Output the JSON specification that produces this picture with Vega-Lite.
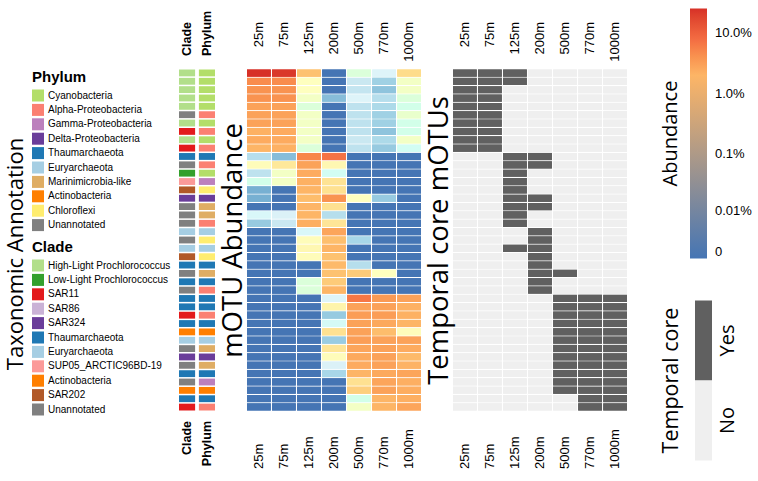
{
"$schema":"https://vega.github.io/schema/vega-lite/v6.json",
"background":"white",
"padding":{"left":5,"right":5,"top":8.5,"bottom":5},
"bounds":"flush",
"spacing":32,
"title":{"text":"Taxonomic Annotation","orient":"left","anchor":"middle","frame":"group","fontSize":22,"fontWeight":"normal","font":"Open Sans","color":"black","offset":4,"dx":-14},
"config":{"view":{"stroke":null},"axis":{"domain":false,"ticks":false,"tickSize":0,"grid":false,"labelColor":"black","titleColor":"black"},"legend":{"labelColor":"black","titleColor":"black"}},
"datasets":{
"annot":[
{"m":1,"clade":"High-Light Prochlorococcus","phylum":"Cyanobacteria"},
{"m":2,"clade":"High-Light Prochlorococcus","phylum":"Cyanobacteria"},
{"m":3,"clade":"High-Light Prochlorococcus","phylum":"Cyanobacteria"},
{"m":4,"clade":"High-Light Prochlorococcus","phylum":"Cyanobacteria"},
{"m":5,"clade":"High-Light Prochlorococcus","phylum":"Cyanobacteria"},
{"m":6,"clade":"Unannotated","phylum":"Alpha-Proteobacteria"},
{"m":7,"clade":"High-Light Prochlorococcus","phylum":"Cyanobacteria"},
{"m":8,"clade":"SAR11","phylum":"Alpha-Proteobacteria"},
{"m":9,"clade":"High-Light Prochlorococcus","phylum":"Cyanobacteria"},
{"m":10,"clade":"SAR11","phylum":"Alpha-Proteobacteria"},
{"m":11,"clade":"Thaumarchaeota","phylum":"Thaumarchaeota"},
{"m":12,"clade":"Unannotated","phylum":"Alpha-Proteobacteria"},
{"m":13,"clade":"Low-Light Prochlorococcus","phylum":"Cyanobacteria"},
{"m":14,"clade":"SUP05_ARCTIC96BD-19","phylum":"Gamma-Proteobacteria"},
{"m":15,"clade":"SAR202","phylum":"Chloroflexi"},
{"m":16,"clade":"SAR324","phylum":"Delta-Proteobacteria"},
{"m":17,"clade":"Unannotated","phylum":"Marinimicrobia-like"},
{"m":18,"clade":"Unannotated","phylum":"Marinimicrobia-like"},
{"m":19,"clade":"Unannotated","phylum":"Alpha-Proteobacteria"},
{"m":20,"clade":"Euryarchaeota","phylum":"Euryarchaeota"},
{"m":21,"clade":"Unannotated","phylum":"Chloroflexi"},
{"m":22,"clade":"Euryarchaeota","phylum":"Euryarchaeota"},
{"m":23,"clade":"SAR202","phylum":"Chloroflexi"},
{"m":24,"clade":"Thaumarchaeota","phylum":"Thaumarchaeota"},
{"m":25,"clade":"Unannotated","phylum":"Marinimicrobia-like"},
{"m":26,"clade":"Thaumarchaeota","phylum":"Thaumarchaeota"},
{"m":27,"clade":"Unannotated","phylum":"Alpha-Proteobacteria"},
{"m":28,"clade":"Thaumarchaeota","phylum":"Thaumarchaeota"},
{"m":29,"clade":"Thaumarchaeota","phylum":"Thaumarchaeota"},
{"m":30,"clade":"SAR11","phylum":"Alpha-Proteobacteria"},
{"m":31,"clade":"Thaumarchaeota","phylum":"Thaumarchaeota"},
{"m":32,"clade":"Actinobacteria","phylum":"Actinobacteria"},
{"m":33,"clade":"Euryarchaeota","phylum":"Euryarchaeota"},
{"m":34,"clade":"Unannotated","phylum":"Marinimicrobia-like"},
{"m":35,"clade":"SAR324","phylum":"Delta-Proteobacteria"},
{"m":36,"clade":"Unannotated","phylum":"Marinimicrobia-like"},
{"m":37,"clade":"Thaumarchaeota","phylum":"Thaumarchaeota"},
{"m":38,"clade":"Unannotated","phylum":"Gamma-Proteobacteria"},
{"m":39,"clade":"Actinobacteria","phylum":"Actinobacteria"},
{"m":40,"clade":"Thaumarchaeota","phylum":"Thaumarchaeota"},
{"m":41,"clade":"SAR11","phylum":"Alpha-Proteobacteria"}
],
"cells":[
{"m":1,"d":"25m","a":25,"c":"Yes"},{"m":1,"d":"75m","a":22,"c":"Yes"},{"m":1,"d":"125m","a":1.5,"c":"Yes"},{"m":1,"d":"200m","a":0,"c":"No"},{"m":1,"d":"500m","a":0.15,"c":"No"},{"m":1,"d":"770m","a":0.07,"c":"No"},{"m":1,"d":"1000m","a":0.8,"c":"No"},
{"m":2,"d":"25m","a":4.5,"c":"Yes"},{"m":2,"d":"75m","a":4.5,"c":"Yes"},{"m":2,"d":"125m","a":0.22,"c":"Yes"},{"m":2,"d":"200m","a":0,"c":"No"},{"m":2,"d":"500m","a":0.04,"c":"No"},{"m":2,"d":"770m","a":0.015,"c":"No"},{"m":2,"d":"1000m","a":0.2,"c":"No"},
{"m":3,"d":"25m","a":4,"c":"Yes"},{"m":3,"d":"75m","a":4,"c":"Yes"},{"m":3,"d":"125m","a":0.22,"c":"No"},{"m":3,"d":"200m","a":0,"c":"No"},{"m":3,"d":"500m","a":0.035,"c":"No"},{"m":3,"d":"770m","a":0.01,"c":"No"},{"m":3,"d":"1000m","a":0.2,"c":"No"},
{"m":4,"d":"25m","a":4,"c":"Yes"},{"m":4,"d":"75m","a":4,"c":"Yes"},{"m":4,"d":"125m","a":0.2,"c":"No"},{"m":4,"d":"200m","a":0.008,"c":"No"},{"m":4,"d":"500m","a":0.07,"c":"No"},{"m":4,"d":"770m","a":0.025,"c":"No"},{"m":4,"d":"1000m","a":0.15,"c":"No"},
{"m":5,"d":"25m","a":3,"c":"Yes"},{"m":5,"d":"75m","a":3,"c":"Yes"},{"m":5,"d":"125m","a":0.15,"c":"No"},{"m":5,"d":"200m","a":0,"c":"No"},{"m":5,"d":"500m","a":0.03,"c":"No"},{"m":5,"d":"770m","a":0.02,"c":"No"},{"m":5,"d":"1000m","a":0.12,"c":"No"},
{"m":6,"d":"25m","a":3,"c":"Yes"},{"m":6,"d":"75m","a":3,"c":"Yes"},{"m":6,"d":"125m","a":0.2,"c":"No"},{"m":6,"d":"200m","a":0,"c":"No"},{"m":6,"d":"500m","a":0.03,"c":"No"},{"m":6,"d":"770m","a":0.015,"c":"No"},{"m":6,"d":"1000m","a":0.18,"c":"No"},
{"m":7,"d":"25m","a":3,"c":"Yes"},{"m":7,"d":"75m","a":3,"c":"Yes"},{"m":7,"d":"125m","a":0.2,"c":"No"},{"m":7,"d":"200m","a":0,"c":"No"},{"m":7,"d":"500m","a":0.03,"c":"No"},{"m":7,"d":"770m","a":0.015,"c":"No"},{"m":7,"d":"1000m","a":0.12,"c":"No"},
{"m":8,"d":"25m","a":2.2,"c":"Yes"},{"m":8,"d":"75m","a":2.5,"c":"Yes"},{"m":8,"d":"125m","a":0.2,"c":"No"},{"m":8,"d":"200m","a":0,"c":"No"},{"m":8,"d":"500m","a":0.03,"c":"No"},{"m":8,"d":"770m","a":0.01,"c":"No"},{"m":8,"d":"1000m","a":0.12,"c":"No"},
{"m":9,"d":"25m","a":2.5,"c":"Yes"},{"m":9,"d":"75m","a":2.5,"c":"Yes"},{"m":9,"d":"125m","a":0.2,"c":"No"},{"m":9,"d":"200m","a":0,"c":"No"},{"m":9,"d":"500m","a":0.04,"c":"No"},{"m":9,"d":"770m","a":0.02,"c":"No"},{"m":9,"d":"1000m","a":0.2,"c":"No"},
{"m":10,"d":"25m","a":2,"c":"Yes"},{"m":10,"d":"75m","a":2.2,"c":"Yes"},{"m":10,"d":"125m","a":0.15,"c":"No"},{"m":10,"d":"200m","a":0,"c":"No"},{"m":10,"d":"500m","a":0.03,"c":"No"},{"m":10,"d":"770m","a":0.012,"c":"No"},{"m":10,"d":"1000m","a":0.1,"c":"No"},
{"m":11,"d":"25m","a":0.025,"c":"No"},{"m":11,"d":"75m","a":0.008,"c":"No"},{"m":11,"d":"125m","a":5,"c":"Yes"},{"m":11,"d":"200m","a":7,"c":"Yes"},{"m":11,"d":"500m","a":0,"c":"No"},{"m":11,"d":"770m","a":0,"c":"No"},{"m":11,"d":"1000m","a":0,"c":"No"},
{"m":12,"d":"25m","a":0.25,"c":"No"},{"m":12,"d":"75m","a":0.55,"c":"No"},{"m":12,"d":"125m","a":3,"c":"Yes"},{"m":12,"d":"200m","a":0.3,"c":"Yes"},{"m":12,"d":"500m","a":0,"c":"No"},{"m":12,"d":"770m","a":0,"c":"No"},{"m":12,"d":"1000m","a":0,"c":"No"},
{"m":13,"d":"25m","a":0.03,"c":"No"},{"m":13,"d":"75m","a":0.2,"c":"No"},{"m":13,"d":"125m","a":2.5,"c":"Yes"},{"m":13,"d":"200m","a":0.1,"c":"No"},{"m":13,"d":"500m","a":0,"c":"No"},{"m":13,"d":"770m","a":0,"c":"No"},{"m":13,"d":"1000m","a":0,"c":"No"},
{"m":14,"d":"25m","a":0.12,"c":"No"},{"m":14,"d":"75m","a":0.2,"c":"No"},{"m":14,"d":"125m","a":2.2,"c":"Yes"},{"m":14,"d":"200m","a":0.65,"c":"No"},{"m":14,"d":"500m","a":0,"c":"No"},{"m":14,"d":"770m","a":0,"c":"No"},{"m":14,"d":"1000m","a":0,"c":"No"},
{"m":15,"d":"25m","a":0.005,"c":"No"},{"m":15,"d":"75m","a":0,"c":"No"},{"m":15,"d":"125m","a":2,"c":"Yes"},{"m":15,"d":"200m","a":0.7,"c":"No"},{"m":15,"d":"500m","a":0,"c":"No"},{"m":15,"d":"770m","a":0,"c":"No"},{"m":15,"d":"1000m","a":0,"c":"No"},
{"m":16,"d":"25m","a":0.005,"c":"No"},{"m":16,"d":"75m","a":0,"c":"No"},{"m":16,"d":"125m","a":1.7,"c":"Yes"},{"m":16,"d":"200m","a":4,"c":"Yes"},{"m":16,"d":"500m","a":0.22,"c":"No"},{"m":16,"d":"770m","a":0.012,"c":"No"},{"m":16,"d":"1000m","a":0,"c":"No"},
{"m":17,"d":"25m","a":0,"c":"No"},{"m":17,"d":"75m","a":0,"c":"No"},{"m":17,"d":"125m","a":2,"c":"Yes"},{"m":17,"d":"200m","a":0.7,"c":"Yes"},{"m":17,"d":"500m","a":0,"c":"No"},{"m":17,"d":"770m","a":0,"c":"No"},{"m":17,"d":"1000m","a":0,"c":"No"},
{"m":18,"d":"25m","a":0.08,"c":"No"},{"m":18,"d":"75m","a":0.06,"c":"No"},{"m":18,"d":"125m","a":2,"c":"Yes"},{"m":18,"d":"200m","a":0.025,"c":"No"},{"m":18,"d":"500m","a":0,"c":"No"},{"m":18,"d":"770m","a":0,"c":"No"},{"m":18,"d":"1000m","a":0,"c":"No"},
{"m":19,"d":"25m","a":0.012,"c":"No"},{"m":19,"d":"75m","a":0.04,"c":"No"},{"m":19,"d":"125m","a":2.3,"c":"Yes"},{"m":19,"d":"200m","a":0.6,"c":"No"},{"m":19,"d":"500m","a":0,"c":"No"},{"m":19,"d":"770m","a":0,"c":"No"},{"m":19,"d":"1000m","a":0,"c":"No"},
{"m":20,"d":"25m","a":0,"c":"No"},{"m":20,"d":"75m","a":0,"c":"No"},{"m":20,"d":"125m","a":0.08,"c":"No"},{"m":20,"d":"200m","a":2.8,"c":"Yes"},{"m":20,"d":"500m","a":0,"c":"No"},{"m":20,"d":"770m","a":0,"c":"No"},{"m":20,"d":"1000m","a":0,"c":"No"},
{"m":21,"d":"25m","a":0,"c":"No"},{"m":21,"d":"75m","a":0,"c":"No"},{"m":21,"d":"125m","a":0.25,"c":"No"},{"m":21,"d":"200m","a":1.6,"c":"Yes"},{"m":21,"d":"500m","a":0.018,"c":"No"},{"m":21,"d":"770m","a":0,"c":"No"},{"m":21,"d":"1000m","a":0,"c":"No"},
{"m":22,"d":"25m","a":0,"c":"No"},{"m":22,"d":"75m","a":0,"c":"No"},{"m":22,"d":"125m","a":0.3,"c":"Yes"},{"m":22,"d":"200m","a":2,"c":"Yes"},{"m":22,"d":"500m","a":0,"c":"No"},{"m":22,"d":"770m","a":0,"c":"No"},{"m":22,"d":"1000m","a":0,"c":"No"},
{"m":23,"d":"25m","a":0,"c":"No"},{"m":23,"d":"75m","a":0,"c":"No"},{"m":23,"d":"125m","a":0.25,"c":"No"},{"m":23,"d":"200m","a":1.5,"c":"Yes"},{"m":23,"d":"500m","a":0,"c":"No"},{"m":23,"d":"770m","a":0,"c":"No"},{"m":23,"d":"1000m","a":0,"c":"No"},
{"m":24,"d":"25m","a":0,"c":"No"},{"m":24,"d":"75m","a":0,"c":"No"},{"m":24,"d":"125m","a":0,"c":"No"},{"m":24,"d":"200m","a":1.8,"c":"Yes"},{"m":24,"d":"500m","a":0.025,"c":"No"},{"m":24,"d":"770m","a":0,"c":"No"},{"m":24,"d":"1000m","a":0,"c":"No"},
{"m":25,"d":"25m","a":0,"c":"No"},{"m":25,"d":"75m","a":0,"c":"No"},{"m":25,"d":"125m","a":0,"c":"No"},{"m":25,"d":"200m","a":1.5,"c":"Yes"},{"m":25,"d":"500m","a":1.2,"c":"Yes"},{"m":25,"d":"770m","a":0.22,"c":"No"},{"m":25,"d":"1000m","a":0,"c":"No"},
{"m":26,"d":"25m","a":0,"c":"No"},{"m":26,"d":"75m","a":0,"c":"No"},{"m":26,"d":"125m","a":0.15,"c":"No"},{"m":26,"d":"200m","a":1.2,"c":"Yes"},{"m":26,"d":"500m","a":0,"c":"No"},{"m":26,"d":"770m","a":0,"c":"No"},{"m":26,"d":"1000m","a":0,"c":"No"},
{"m":27,"d":"25m","a":0,"c":"No"},{"m":27,"d":"75m","a":0,"c":"No"},{"m":27,"d":"125m","a":0.15,"c":"No"},{"m":27,"d":"200m","a":2,"c":"Yes"},{"m":27,"d":"500m","a":0,"c":"No"},{"m":27,"d":"770m","a":0,"c":"No"},{"m":27,"d":"1000m","a":0,"c":"No"},
{"m":28,"d":"25m","a":0,"c":"No"},{"m":28,"d":"75m","a":0,"c":"No"},{"m":28,"d":"125m","a":0,"c":"No"},{"m":28,"d":"200m","a":0.07,"c":"No"},{"m":28,"d":"500m","a":6.5,"c":"Yes"},{"m":28,"d":"770m","a":3.5,"c":"Yes"},{"m":28,"d":"1000m","a":3,"c":"Yes"},
{"m":29,"d":"25m","a":0,"c":"No"},{"m":29,"d":"75m","a":0,"c":"No"},{"m":29,"d":"125m","a":0,"c":"No"},{"m":29,"d":"200m","a":0.35,"c":"No"},{"m":29,"d":"500m","a":3,"c":"Yes"},{"m":29,"d":"770m","a":3,"c":"Yes"},{"m":29,"d":"1000m","a":2.2,"c":"Yes"},
{"m":30,"d":"25m","a":0,"c":"No"},{"m":30,"d":"75m","a":0,"c":"No"},{"m":30,"d":"125m","a":0,"c":"No"},{"m":30,"d":"200m","a":0.012,"c":"No"},{"m":30,"d":"500m","a":3.3,"c":"Yes"},{"m":30,"d":"770m","a":3.3,"c":"Yes"},{"m":30,"d":"1000m","a":2.2,"c":"Yes"},
{"m":31,"d":"25m","a":0,"c":"No"},{"m":31,"d":"75m","a":0,"c":"No"},{"m":31,"d":"125m","a":0,"c":"No"},{"m":31,"d":"200m","a":0.09,"c":"No"},{"m":31,"d":"500m","a":3,"c":"Yes"},{"m":31,"d":"770m","a":2.6,"c":"Yes"},{"m":31,"d":"1000m","a":2,"c":"Yes"},
{"m":32,"d":"25m","a":0,"c":"No"},{"m":32,"d":"75m","a":0,"c":"No"},{"m":32,"d":"125m","a":0,"c":"No"},{"m":32,"d":"200m","a":0.7,"c":"No"},{"m":32,"d":"500m","a":3,"c":"Yes"},{"m":32,"d":"770m","a":1.7,"c":"Yes"},{"m":32,"d":"1000m","a":0.25,"c":"Yes"},
{"m":33,"d":"25m","a":0,"c":"No"},{"m":33,"d":"75m","a":0,"c":"No"},{"m":33,"d":"125m","a":0,"c":"No"},{"m":33,"d":"200m","a":0.013,"c":"No"},{"m":33,"d":"500m","a":3.2,"c":"Yes"},{"m":33,"d":"770m","a":3,"c":"Yes"},{"m":33,"d":"1000m","a":3,"c":"Yes"},
{"m":34,"d":"25m","a":0,"c":"No"},{"m":34,"d":"75m","a":0,"c":"No"},{"m":34,"d":"125m","a":0,"c":"No"},{"m":34,"d":"200m","a":0.6,"c":"No"},{"m":34,"d":"500m","a":2.8,"c":"Yes"},{"m":34,"d":"770m","a":3,"c":"Yes"},{"m":34,"d":"1000m","a":2.5,"c":"Yes"},
{"m":35,"d":"25m","a":0,"c":"No"},{"m":35,"d":"75m","a":0,"c":"No"},{"m":35,"d":"125m","a":0,"c":"No"},{"m":35,"d":"200m","a":0.25,"c":"No"},{"m":35,"d":"500m","a":2.6,"c":"Yes"},{"m":35,"d":"770m","a":3,"c":"Yes"},{"m":35,"d":"1000m","a":1.8,"c":"Yes"},
{"m":36,"d":"25m","a":0,"c":"No"},{"m":36,"d":"75m","a":0,"c":"No"},{"m":36,"d":"125m","a":0,"c":"No"},{"m":36,"d":"200m","a":0.06,"c":"No"},{"m":36,"d":"500m","a":2.5,"c":"Yes"},{"m":36,"d":"770m","a":3,"c":"Yes"},{"m":36,"d":"1000m","a":2.1,"c":"Yes"},
{"m":37,"d":"25m","a":0,"c":"No"},{"m":37,"d":"75m","a":0,"c":"No"},{"m":37,"d":"125m","a":0,"c":"No"},{"m":37,"d":"200m","a":0.018,"c":"No"},{"m":37,"d":"500m","a":2,"c":"Yes"},{"m":37,"d":"770m","a":2.6,"c":"Yes"},{"m":37,"d":"1000m","a":2.8,"c":"Yes"},
{"m":38,"d":"25m","a":0,"c":"No"},{"m":38,"d":"75m","a":0,"c":"No"},{"m":38,"d":"125m","a":0,"c":"No"},{"m":38,"d":"200m","a":0,"c":"No"},{"m":38,"d":"500m","a":0.7,"c":"Yes"},{"m":38,"d":"770m","a":2.8,"c":"Yes"},{"m":38,"d":"1000m","a":2.3,"c":"Yes"},
{"m":39,"d":"25m","a":0,"c":"No"},{"m":39,"d":"75m","a":0,"c":"No"},{"m":39,"d":"125m","a":0,"c":"No"},{"m":39,"d":"200m","a":0,"c":"No"},{"m":39,"d":"500m","a":1.1,"c":"Yes"},{"m":39,"d":"770m","a":3,"c":"Yes"},{"m":39,"d":"1000m","a":2.4,"c":"Yes"},
{"m":40,"d":"25m","a":0,"c":"No"},{"m":40,"d":"75m","a":0,"c":"No"},{"m":40,"d":"125m","a":0,"c":"No"},{"m":40,"d":"200m","a":0,"c":"No"},{"m":40,"d":"500m","a":0.12,"c":"No"},{"m":40,"d":"770m","a":2,"c":"Yes"},{"m":40,"d":"1000m","a":2.3,"c":"Yes"},
{"m":41,"d":"25m","a":0,"c":"No"},{"m":41,"d":"75m","a":0,"c":"No"},{"m":41,"d":"125m","a":0,"c":"No"},{"m":41,"d":"200m","a":0,"c":"No"},{"m":41,"d":"500m","a":0.2,"c":"No"},{"m":41,"d":"770m","a":2,"c":"Yes"},{"m":41,"d":"1000m","a":2.8,"c":"Yes"}
]
},
"hconcat":[
{
"width":36,"height":341,
"data":{"name":"annot"},
"layer":[
{"mark":{"type":"rect"},
"encoding":{
"x":{"datum":"Phylum","type":"nominal","scale":{"domain":["Clade","Phylum"],"paddingInner":0.19,"paddingOuter":0},
"axis":{"orient":"bottom","title":null,"labelAngle":-90,"labelAlign":"right","labelBaseline":"middle","labelPadding":10,"labelFont":"Liberation Sans","labelFontSize":12.5,"labelFontWeight":"bold"}},
"y":{"field":"m","type":"ordinal","scale":{"paddingInner":0.18,"paddingOuter":0},"axis":null},
"color":{"field":"phylum","type":"nominal","scale":{"domain":["Cyanobacteria","Alpha-Proteobacteria","Gamma-Proteobacteria","Delta-Proteobacteria","Thaumarchaeota","Euryarchaeota","Marinimicrobia-like","Actinobacteria","Chloroflexi","Unannotated"],"range":["#b3de69","#fb8072","#bc80bd","#6a3d9a","#1f78b4","#a6cee3","#dfad64","#ff7f00","#ffed6f","#808080"]},
"legend":{"title":"Phylum","orient":"left","offset":8,"symbolType":"square","symbolSize":144,"symbolStrokeWidth":0,"symbolOpacity":1,"labelFont":"Liberation Sans","labelFontSize":10,"labelOffset":4,"rowPadding":2.4,"titleFont":"Liberation Sans","titleFontSize":15,"titleFontWeight":"bold","titlePadding":5,"labelLimit":300}}
}},
{"mark":{"type":"rect"},
"encoding":{
"x":{"datum":"Clade","type":"nominal","axis":{"orient":"top","title":null,"labelAngle":-90,"labelAlign":"left","labelBaseline":"middle","labelPadding":14,"labelFont":"Liberation Sans","labelFontSize":12.5,"labelFontWeight":"bold"}},
"y":{"field":"m","type":"ordinal","axis":null},
"color":{"field":"clade","type":"nominal","scale":{"domain":["High-Light Prochlorococcus","Low-Light Prochlorococcus","SAR11","SAR86","SAR324","Thaumarchaeota","Euryarchaeota","SUP05_ARCTIC96BD-19","Actinobacteria","SAR202","Unannotated"],"range":["#b2df8a","#33a02c","#e31a1c","#cab2d6","#6a3d9a","#1f78b4","#a6cee3","#fb9a99","#ff7f00","#b15928","#808080"]},
"legend":{"title":"Clade","orient":"left","offset":8,"symbolType":"square","symbolSize":144,"symbolStrokeWidth":0,"symbolOpacity":1,"labelFont":"Liberation Sans","labelFontSize":10,"labelOffset":4,"rowPadding":2.4,"titleFont":"Liberation Sans","titleFontSize":15,"titleFontWeight":"bold","titlePadding":5,"labelLimit":300}}
}}
],
"resolve":{"scale":{"color":"independent"},"axis":{"x":"independent"}}
},
{
"width":174,"height":341,
"data":{"name":"cells"},
"layer":[
{"mark":{"type":"rect"},
"encoding":{
"x":{"field":"d","type":"ordinal","scale":{"domain":["25m","75m","125m","200m","500m","770m","1000m"],"paddingInner":0.05,"paddingOuter":0},
"axis":{"orient":"top","title":null,"labelAngle":-90,"labelAlign":"right","labelBaseline":"middle","labelPadding":48,"labelFont":"Liberation Sans","labelFontSize":13}},
"y":{"field":"m","type":"ordinal","scale":{"paddingInner":0.14,"paddingOuter":0},"axis":{"title":"mOTU Abundance","labels":false,"titleFont":"Open Sans","titleFontSize":27.5,"titleFontWeight":"normal","titlePadding":0}},
"color":{"field":"a","type":"quantitative","scale":{"type":"symlog","constant":0.002,"domain":[0,25],"range":["#4575b4","#74add1","#abd9e9","#e0f3f8","#ffffbf","#fee090","#fdae61","#f46d43","#d73027"]},
"legend":{"title":"Abundance","orient":"none","legendX":482,"legendY":-61,"titleOrient":"left","titleAngle":270,"titleAnchor":"middle","titleFont":"Open Sans","titleFontSize":20,"titleFontWeight":"normal","titlePadding":8,"gradientLength":250,"gradientThickness":17,"gradientStrokeWidth":0,"values":[0,0.01,0.1,1,10],"labelExpr":"datum.value < 0.005 ? '0' : datum.value < 0.05 ? '0.01%' : datum.value < 0.5 ? '0.1%' : datum.value < 5 ? '1.0%' : '10.0%'","labelFont":"Liberation Sans","labelFontSize":13,"labelOffset":8,"labelOverlap":false}}
}},
{"mark":{"type":"rect"},
"encoding":{
"x":{"field":"d","type":"ordinal","axis":{"orient":"bottom","title":null,"labelAngle":-90,"labelAlign":"left","labelBaseline":"middle","labelPadding":58,"labelFont":"Liberation Sans","labelFontSize":13}},
"y":{"field":"m","type":"ordinal","axis":{"title":"mOTU Abundance","labels":false,"titleFont":"Open Sans","titleFontSize":27.5,"titleFontWeight":"normal","titlePadding":0}},
"color":{"field":"a","type":"quantitative"}
}}
],
"resolve":{"axis":{"x":"independent"}}
},
{
"width":174,"height":341,
"data":{"name":"cells"},
"layer":[
{"mark":{"type":"rect"},
"encoding":{
"x":{"field":"d","type":"ordinal","scale":{"domain":["25m","75m","125m","200m","500m","770m","1000m"],"paddingInner":0.05,"paddingOuter":0},
"axis":{"orient":"top","title":null,"labelAngle":-90,"labelAlign":"right","labelBaseline":"middle","labelPadding":48,"labelFont":"Liberation Sans","labelFontSize":13}},
"y":{"field":"m","type":"ordinal","scale":{"paddingInner":0.14,"paddingOuter":0},"axis":{"title":"Temporal core mOTUs","labels":false,"titleFont":"Open Sans","titleFontSize":27.5,"titleFontWeight":"normal","titlePadding":0}},
"fill":{"field":"c","type":"nominal","scale":{"domain":["Yes","No"],"range":["#606060","#efefef"]},
"legend":{"title":"Temporal core","orient":"none","legendX":482,"legendY":231,"titleOrient":"left","titleAngle":270,"titleAnchor":"middle","titleFont":"Open Sans","titleFontSize":21.5,"titleFontWeight":"normal","titlePadding":10,"symbolType":"M-1.5,-1H-1.075V1H-1.5Z","symbolSize":6400,"symbolStrokeWidth":0,"symbolOpacity":1,"rowPadding":0,"labelOffset":-67,"labelFont":"Open Sans","labelFontSize":20,
"encoding":{"title":{"angle":{"value":270},"align":{"value":"center"},"baseline":{"value":"bottom"}},"labels":{"angle":{"value":-90},"align":{"value":"center"},"baseline":{"value":"middle"}}}}}
}},
{"mark":{"type":"rect"},
"encoding":{
"x":{"field":"d","type":"ordinal","axis":{"orient":"bottom","title":null,"labelAngle":-90,"labelAlign":"left","labelBaseline":"middle","labelPadding":58,"labelFont":"Liberation Sans","labelFontSize":13}},
"y":{"field":"m","type":"ordinal","axis":{"title":"Temporal core mOTUs","labels":false,"titleFont":"Open Sans","titleFontSize":27.5,"titleFontWeight":"normal","titlePadding":0}},
"fill":{"field":"c","type":"nominal"}
}}
],
"resolve":{"axis":{"x":"independent"}}
}
]
}
